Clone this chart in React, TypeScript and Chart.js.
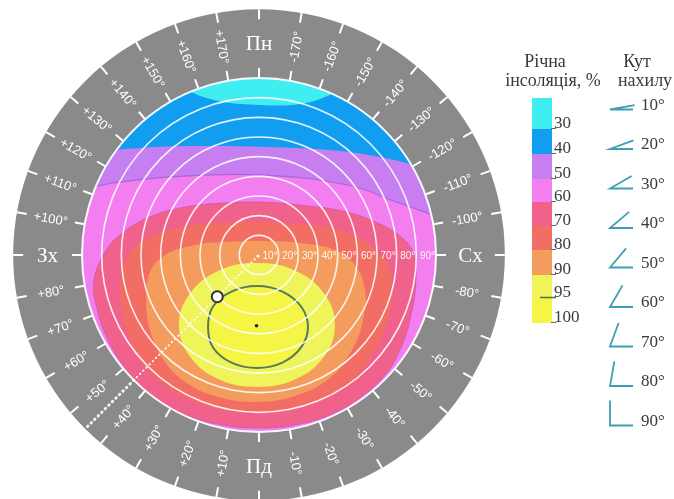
import React, { useEffect, useRef } from "react";
import { Chart, registerables } from "chart.js";

Chart.register(...registerables);

// ---------------- data ----------------
// azimuth of each ring division (0 = south, + = west, - = east)
const AZIMUTHS = [0, 10, 20, 30, 40, 50, 60, 70, 80, 90, 100, 110, 120, 130, 140, 150, 160, 170, 180,
  -170, -160, -150, -140, -130, -120, -110, -100, -90, -80, -70, -60, -50, -40, -30, -20, -10];
const AZIMUTH_LABELS = ["Пд", "+10°", "+20°", "+30°", "+40°", "+50°", "+60°", "+70°", "+80°", "Зх",
  "+100°", "+110°", "+120°", "+130°", "+140°", "+150°", "+160°", "+170°", "Пн",
  "-170°", "-160°", "-150°", "-140°", "-130°", "-120°", "-110°", "-100°", "Сх",
  "-80°", "-70°", "-60°", "-50°", "-40°", "-30°", "-20°", "-10°"];
const CARDINALS = ["Пд", "Зх", "Пн", "Сх"];

// tilt circles (degrees of tilt = radius in chart units)
const TILTS = [10, 20, 30, 40, 50, 60, 70, 80, 90];
const TILT_LABELS = ["10°", "20°", "30°", "40°", "50°", "60°", "70°", "80°", "90°"];

// legend of annual insolation, %
const LEVEL_LABELS = ["30", "40", "50", "60", "70", "80", "90", "95", "100"];
const ZONE_COLORS = ["#3eeef0", "#119ef0", "#c77ef1", "#f27ef0", "#f0628b", "#f26d64", "#f49b5e", "#eef45a", "#f5f546"];

// zone boundaries, chart units (x: west-east, y: south-north)
const EDGE_40: [number, number][] = [[-100, 100], [-50, 92], [-35, 83], [-19, 78], [0, 76.3], [21, 76.8], [38, 82.4], [52, 92], [100, 100]];
const EDGE_50: [number, number][] = [[-100, 52], [-74, 53.4], [-50, 55], [-25, 55.4], [0, 55], [26, 54], [45, 52.4], [61.5, 49.8], [78, 45.8], [100, 38]];
const EDGE_60: [number, number][] = [[-100, 32], [-87, 34], [-74, 36.6], [-45, 39.7], [0, 40.7], [45, 35.6], [70, 26.9], [88.5, 20.3], [100, 16]];
const ZONE_70: [number, number][] = [[0, 26.9], [20.8, 25.4], [44.7, 21.9], [61.5, 15.8], [71.7, 9.7], [78.3, 1.5], [79.8, -12.7], [76.8, -33], [71.7, -48.3], [64.1, -61], [51.3, -72.7], [36.1, -81.3], [18.3, -86.4], [0, -88], [-18.8, -86.4], [-37.6, -81.3], [-52.9, -72.7], [-66.6, -59.5], [-76.8, -43.2], [-82.9, -25.4], [-83.9, -12.7], [-78.3, 1.5], [-70.7, 10.2], [-56.9, 18.8], [-40.2, 23.9], [-19.8, 26.4]];
const ZONE_80: [number, number][] = [[0, 16.8], [20.8, 15.8], [41.2, 12.7], [56.5, 5.1], [65.6, -5.1], [67.6, -17.8], [65.6, -33], [59, -48.3], [48.8, -62.5], [33.6, -72.7], [15.8, -78.8], [0, -80.3], [-17.3, -78.8], [-35.1, -73.7], [-50.3, -64.6], [-61.5, -50.8], [-68.6, -34.1], [-70.7, -17.8], [-68.1, -3.6], [-60.5, 6.1], [-45.2, 12.7], [-22.4, 16.3]];
const ZONE_90: [number, number][] = [[0, 7.1], [20.8, 6.1], [38.6, 2.5], [48.8, -5.1], [53.9, -17.8], [52.9, -33], [47.3, -48.3], [36.1, -62.5], [18.3, -71.7], [0, -74.7], [-18.8, -72.7], [-35.1, -66.1], [-47.8, -54.4], [-55.4, -38.1], [-57.4, -22.9], [-55.4, -8.6], [-47.8, 0], [-32.5, 5.1], [-17.3, 6.6]];
const ZONE_95: [number, number][] = [[-1, -4.1], [18.8, -8.1], [33.3, -19.8], [38.6, -35.6], [33.3, -51.4], [18.8, -63.1], [-1, -67.1], [-20.8, -63.1], [-35.3, -51.4], [-40.7, -35.6], [-35.3, -19.8], [-20.8, -8.1]];
const ZONE_100: [number, number][] = [[-1, -15.8], [11.9, -18.6], [21.4, -26.2], [24.9, -36.6], [21.4, -47], [11.9, -54.7], [-1, -57.4], [-14, -54.7], [-23.4, -47], [-25.9, -36.6], [-23.4, -26.2], [-14, -18.6]];

// highlighted orientation and optimum (tilt °, azimuth °)
const SELECTED = { tilt: 30, azimuth: 45 };
const OPTIMUM = { tilt: 36, azimuth: 2 };

// ---------------- layout / style ----------------
const W = 674;
const H = 499;
const UNIT = 177 / 90; // px per unit
const CX = 259;
const CY = 255;
const DISK_R = 90;
const RING_R = 125;
const LABEL_R = 107.5;
const GRAY = "#8a8a8a";
const SANS = '"Liberation Sans", Arial, sans-serif';
const SERIF = '"Liberation Serif", "Times New Roman", serif';
const TEXT = "#3a3a3a";
const ICON = "#3d9fb3";
const BAR = { x: 532, w: 20, edges: [98, 129, 154, 179, 202, 226, 250, 275, 298, 323] };
const CLEAR = "rgba(0,0,0,0)";

const pts = (a: [number, number][]) => a.map(([x, y]) => ({ x, y }));
// closed outline; wrapped by one point on each side so the spline is smooth everywhere
const closed = (a: [number, number][]) => pts([a[a.length - 1], ...a, a[0], a[1]]);
const rad = (d: number) => (d * Math.PI) / 180;

function geo(chart: any) {
  const sx = chart.scales.x;
  const sy = chart.scales.y;
  const cx = sx.getPixelForValue(0);
  const cy = sy.getPixelForValue(0);
  const k = sx.getPixelForValue(1) - cx;
  return { cx, cy, k };
}

const diagramPlugin = {
  id: "diagram",
  beforeDatasetsDraw(chart: any) {
    const ctx = chart.ctx;
    const { cx, cy, k } = geo(chart);
    ctx.save();
    ctx.fillStyle = GRAY;
    ctx.beginPath();
    ctx.arc(cx, cy, RING_R * k, 0, Math.PI * 2);
    ctx.fill();
    ctx.fillStyle = ZONE_COLORS[0];
    ctx.beginPath();
    ctx.arc(cx, cy, DISK_R * k, 0, Math.PI * 2);
    ctx.fill();
    ctx.restore();
    ctx.save();
    ctx.beginPath();
    ctx.arc(cx, cy, DISK_R * k, 0, Math.PI * 2);
    ctx.clip();
  },
  afterDatasetsDraw(chart: any) {
    const ctx = chart.ctx;
    ctx.restore();
    const { cx, cy, k } = geo(chart);

    // tilt circles
    ctx.save();
    TILTS.forEach((t) => {
      ctx.strokeStyle = t === 90 ? "rgba(255,255,255,0.95)" : "rgba(255,255,255,0.88)";
      ctx.lineWidth = t === 90 ? 2 : 1.6;
      ctx.beginPath();
      ctx.arc(cx, cy, t * k, 0, Math.PI * 2);
      ctx.stroke();
    });

    // ring ticks and labels
    ctx.strokeStyle = "#ffffff";
    ctx.lineWidth = 2;
    AZIMUTHS.forEach((a, i) => {
      const dx = -Math.sin(rad(a));
      const dy = Math.cos(rad(a));
      const r0 = DISK_R * k, r1 = DISK_R * k + 10;
      const r2 = RING_R * k - 10, r3 = RING_R * k;
      ctx.beginPath();
      ctx.moveTo(cx + dx * r0, cy + dy * r0);
      ctx.lineTo(cx + dx * r1, cy + dy * r1);
      ctx.moveTo(cx + dx * r2, cy + dy * r2);
      ctx.lineTo(cx + dx * r3, cy + dy * r3);
      ctx.stroke();
      const label = AZIMUTH_LABELS[i];
      const lx = cx + dx * LABEL_R * k;
      const ly = cy + dy * LABEL_R * k;
      ctx.save();
      ctx.fillStyle = "#ffffff";
      ctx.textAlign = "center";
      ctx.textBaseline = "middle";
      ctx.translate(lx, ly);
      if (CARDINALS.includes(label)) {
        ctx.font = `21px ${SERIF}`;
      } else {
        ctx.font = `13px ${SANS}`;
        const th = a > 0 ? Math.atan2(-Math.cos(rad(a)), Math.sin(rad(a))) : Math.atan2(Math.cos(rad(a)), -Math.sin(rad(a)));
        ctx.rotate(th);
      }
      ctx.fillText(label, 0, 1);
      ctx.restore();
    });

    // tilt labels along the east radius
    ctx.fillStyle = "rgba(255,255,255,0.92)";
    ctx.font = `10px "Liberation Sans Narrow", ${SANS}`;
    ctx.textAlign = "right";
    ctx.textBaseline = "middle";
    TILTS.forEach((t, i) => {
      ctx.fillText(TILT_LABELS[i], cx + t * k - 1, cy + 1);
    });
    ctx.beginPath();
    ctx.arc(cx - 1, cy + 1, 1.6, 0, Math.PI * 2);
    ctx.fill();

    // dotted orientation line
    const sa = -Math.sin(rad(SELECTED.azimuth));
    const ca = Math.cos(rad(SELECTED.azimuth));
    ctx.strokeStyle = "rgba(255,255,255,0.9)";
    ctx.lineCap = "round";
    ctx.lineWidth = 2;
    ctx.setLineDash([0.5, 4]);
    ctx.beginPath();
    ctx.moveTo(cx + sa * 3 * k, cy + ca * 3 * k);
    ctx.lineTo(cx + sa * DISK_R * k, cy + ca * DISK_R * k);
    ctx.stroke();
    ctx.lineWidth = 3;
    ctx.setLineDash([0.5, 4.5]);
    ctx.beginPath();
    ctx.moveTo(cx + sa * DISK_R * k, cy + ca * DISK_R * k);
    ctx.lineTo(cx + sa * (RING_R - 1) * k, cy + ca * (RING_R - 1) * k);
    ctx.stroke();
    ctx.setLineDash([]);

    // selected marker
    const mx = cx + sa * SELECTED.tilt * k;
    const my = cy + ca * SELECTED.tilt * k;
    ctx.fillStyle = "#ffffff";
    ctx.strokeStyle = "#333333";
    ctx.lineWidth = 2;
    ctx.beginPath();
    ctx.arc(mx, my, 5.5, 0, Math.PI * 2);
    ctx.fill();
    ctx.stroke();

    // optimum dot
    const ox = cx - Math.sin(rad(OPTIMUM.azimuth)) * OPTIMUM.tilt * k;
    const oy = cy + Math.cos(rad(OPTIMUM.azimuth)) * OPTIMUM.tilt * k;
    ctx.fillStyle = "#1e2a1e";
    ctx.beginPath();
    ctx.arc(ox, oy, 1.8, 0, Math.PI * 2);
    ctx.fill();
    ctx.restore();
  },
  afterDraw(chart: any) {
    const ctx = chart.ctx;
    ctx.save();
    ctx.fillStyle = TEXT;
    ctx.textAlign = "center";
    ctx.textBaseline = "middle";
    ctx.font = `18px ${SERIF}`;
    ctx.fillText("Річна", 545, 62);
    ctx.fillText("інсоляція, %", 553, 81);
    ctx.fillText("Кут", 637, 62);
    ctx.fillText("нахилу", 645, 81);

    // colour bar
    const e = BAR.edges;
    for (let i = 0; i < ZONE_COLORS.length; i++) {
      ctx.fillStyle = ZONE_COLORS[i];
      ctx.fillRect(BAR.x, e[i], BAR.w, e[i + 1] - e[i]);
    }
    ctx.font = `17px ${SERIF}`;
    ctx.textAlign = "left";
    ctx.textBaseline = "alphabetic";
    LEVEL_LABELS.forEach((lab, i) => {
      const y = e[i + 1];
      ctx.strokeStyle = lab === "95" ? "#4f6f55" : "#666666";
      ctx.lineWidth = lab === "95" ? 1.5 : 1;
      ctx.beginPath();
      ctx.moveTo(lab === "95" ? BAR.x + 8 : BAR.x + BAR.w - 1, y - 0.5);
      ctx.lineTo(BAR.x + BAR.w + 4, y - 0.5);
      ctx.stroke();
      ctx.fillStyle = TEXT;
      ctx.fillText(lab, BAR.x + BAR.w + 2, y - 1);
    });

    // tilt icons
    ctx.strokeStyle = ICON;
    ctx.lineWidth = 1.8;
    ctx.textBaseline = "middle";
    TILTS.forEach((t, i) => {
      const by = 109.5 + i * 39.5;
      const vx = 610;
      ctx.beginPath();
      ctx.moveTo(vx + 23, by);
      ctx.lineTo(vx, by);
      ctx.lineTo(vx + 25 * Math.cos(rad(t)), by - 25 * Math.sin(rad(t)));
      ctx.stroke();
      ctx.fillStyle = TEXT;
      ctx.fillText(TILT_LABELS[i], 641, by - 4);
    });
    ctx.restore();
  },
};

export default function App() {
  const ref = useRef<HTMLCanvasElement | null>(null);
  useEffect(() => {
    if (!ref.current) return;
    const xMin = -CX / UNIT, xMax = (W - CX) / UNIT;
    const yMax = CY / UNIT, yMin = -(H - CY) / UNIT;
    const shape = (outline: [number, number][], color: string, border = CLEAR, width = 0) => {
      const data = closed(outline);
      const last = data.length - 1;
      return {
        data, showLine: true, pointRadius: 0, tension: 0.4, fill: "shape",
        backgroundColor: color, borderColor: border, borderWidth: width,
        segment: {
          borderColor: (c: any) => (c.p0DataIndex === 0 || c.p1DataIndex === last ? CLEAR : undefined),
        },
      };
    };
    const band = (edge: [number, number][], color: string, border = CLEAR, width = 0) => ({
      data: pts(edge), showLine: true, pointRadius: 0, tension: 0.4, fill: "start",
      backgroundColor: color, borderColor: border, borderWidth: width,
    });
    const chart = new Chart(ref.current, {
      type: "scatter",
      data: {
        datasets: [
          shape(ZONE_100, ZONE_COLORS[8], "#557a5c", 2),
          shape(ZONE_95, ZONE_COLORS[7]),
          shape(ZONE_90, ZONE_COLORS[6]),
          shape(ZONE_80, ZONE_COLORS[5]),
          shape(ZONE_70, ZONE_COLORS[4], "rgba(170,80,170,0.45)", 1),
          band(EDGE_60, ZONE_COLORS[3], "rgba(130,80,200,0.55)", 1.2),
          band(EDGE_50, ZONE_COLORS[2]),
          band(EDGE_40, ZONE_COLORS[1]),
        ] as any,
      },
      options: {
        responsive: false,
        animation: false,
        devicePixelRatio: 1,
        events: [],
        layout: { padding: 0 },
        scales: {
          x: { type: "linear", min: xMin, max: xMax, display: false },
          y: { type: "linear", min: yMin, max: yMax, display: false },
        },
        plugins: { legend: { display: false }, tooltip: { enabled: false } },
      } as any,
      plugins: [diagramPlugin],
    });
    return () => chart.destroy();
  }, []);
  return (
    <div style={{ position: "fixed", left: 0, top: 0, width: W, height: H, background: "#ffffff" }}>
      <canvas ref={ref} width={W} height={H} style={{ display: "block" }} />
    </div>
  );
}
